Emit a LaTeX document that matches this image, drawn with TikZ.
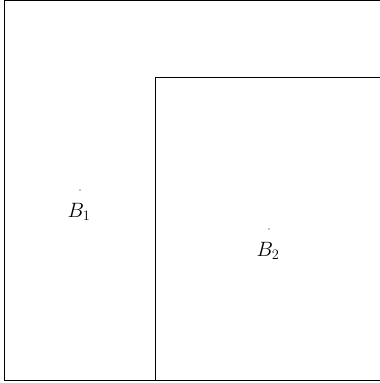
\documentclass[tikz,border=0pt]{standalone}
\begin{document}
\begin{tikzpicture}[x=1pt,y=-1pt,
  region/.style={draw=black,line width=0.9pt},
  centerdot/.style={circle,fill=black,inner sep=0pt,minimum size=1.2pt},
  lbl/.style={font=\fontsize{20.5}{24}\selectfont}]
\useasboundingbox (0,0) rectangle (380,383);
\clip (0,0) rectangle (380,383);
\draw[region] (4.5,0.8) rectangle (381,380.5);
\draw[region] (155.5,77) rectangle (381,380.5);
\node[centerdot] (c1) at (80,190) {};
\node[centerdot] (c2) at (269,229) {};
\node[lbl] (b1) at (79,212) {$B_1$};
\node[lbl] (b2) at (268,251) {$B_2$};
\end{tikzpicture}
\end{document}
